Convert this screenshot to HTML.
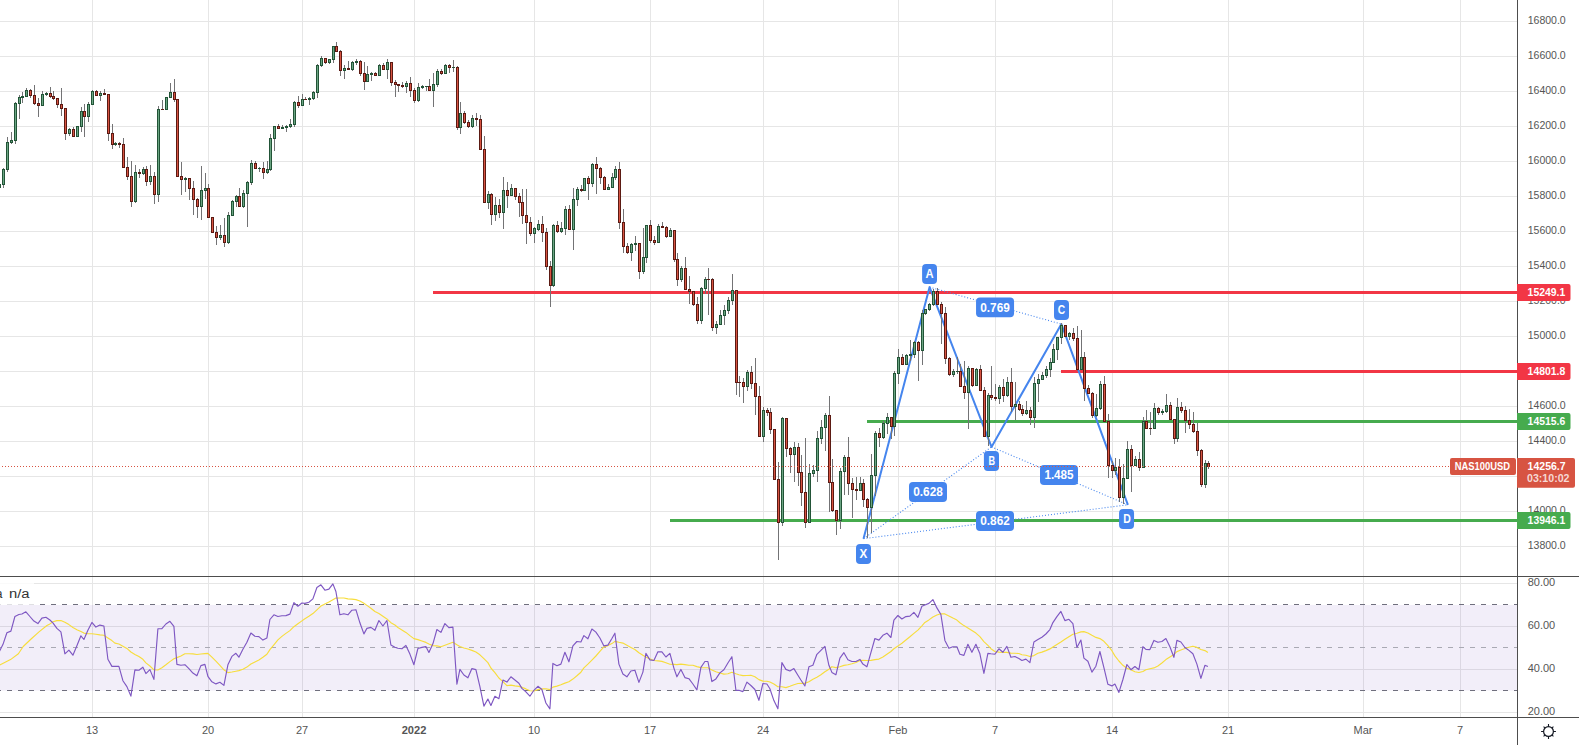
<!DOCTYPE html><html><head><meta charset="utf-8"><title>NAS100USD chart</title>
<style>html,body{margin:0;padding:0;background:#fff;overflow:hidden}svg{display:block}text{font-family:"Liberation Sans",sans-serif}</style></head><body>
<svg width="1579" height="745" viewBox="0 0 1579 745">
<rect width="1579" height="745" fill="#fff"/>
<path d="M0 21.5H1517M0 56.5H1517M0 91.5H1517M0 126.5H1517M0 161.5H1517M0 196.5H1517M0 231.5H1517M0 266.5H1517M0 301.5H1517M0 336.5H1517M0 371.5H1517M0 406.5H1517M0 441.5H1517M0 476.5H1517M0 511.5H1517M0 546.5H1517M0 583.5H1517M0 626.5H1517M0 669.5H1517M0 712.5H1517M92.5 0V576M92.5 577V717M208.5 0V576M208.5 577V717M302.5 0V576M302.5 577V717M414.5 0V576M414.5 577V717M534.5 0V576M534.5 577V717M650.5 0V576M650.5 577V717M763.5 0V576M763.5 577V717M898.5 0V576M898.5 577V717M995.5 0V576M995.5 577V717M1112.5 0V576M1112.5 577V717M1228.5 0V576M1228.5 577V717M1363.5 0V576M1363.5 577V717M1460.5 0V576M1460.5 577V717" stroke="#e6e6e6" stroke-width="1" fill="none" shape-rendering="crispEdges"/>
<rect x="0" y="605" width="1517" height="85.5" fill="#7e57c2" fill-opacity="0.1"/>
<path d="M-4 604.5H1517M-4 690.5H1517" stroke="#6f6f7d" stroke-width="1" stroke-dasharray="5 6" fill="none"/>
<path d="M-4 647.5H1517" stroke="#a9a9b3" stroke-width="1" stroke-dasharray="5 6" fill="none"/>
<path d="M433 292.5H1517M1061 371.5H1517" stroke="#f23645" stroke-width="3" fill="none"/>
<path d="M867 421.5H1517M670 520.5H1517" stroke="#46ab4e" stroke-width="3" fill="none"/>
<path d="M863.5 538.7L991.5 446.9M929.6 287.1L1061.4 324.1M991.5 446.9L1127.9 504.8M863.5 538.7L1127.9 504.8" stroke="#4585ee" stroke-width="1.1" stroke-dasharray="1 2" fill="none"/>
<path d="M863.5 538.7L929.6 287.1L991.5 446.9L1061.4 324.1L1127.9 504.8" stroke="#4585ee" stroke-width="2" fill="none" stroke-linejoin="round"/>
<g shape-rendering="crispEdges">
<path d="M-0.5 184V189M3.5 168V188M7.5 137V172M11.5 132V144M15.5 102V144M19.5 95V119M22.5 92V103M26.5 88V97M30.5 89V98M34.5 85V105M38.5 98V117M42.5 91V106M46.5 92V96M50.5 87V98M53.5 91V100M57.5 98V108M61.5 88V116M65.5 108V140M69.5 128V136M73.5 127V137M77.5 126V137M81.5 107V132M84.5 104V137M88.5 102V122M92.5 90V105M96.5 90V96M100.5 91V101M104.5 89V95M108.5 94V141M112.5 124V149M115.5 142V146M119.5 142V148M123.5 138V168M127.5 157V180M131.5 161V207M135.5 165V203M139.5 169V178M143.5 167V175M146.5 166V186M150.5 165V185M154.5 172V204M158.5 106V202M162.5 100V110M166.5 97V110M170.5 83V98M174.5 79V102M177.5 99V177M181.5 162V195M185.5 177V192M189.5 178V200M193.5 181V215M197.5 198V218M201.5 166V220M205.5 173V199M208.5 184V218M212.5 217V233M216.5 226V245M220.5 225V240M224.5 218V247M228.5 212V244M232.5 200V216M236.5 195V207M239.5 188V207M243.5 190V208M247.5 181V227M251.5 160V185M255.5 161V169M259.5 167V172M263.5 162V179M267.5 161V174M270.5 134V171M274.5 126V151M278.5 124V129M282.5 125V129M286.5 125V132M290.5 119V128M294.5 101V127M298.5 96V108M302.5 94V106M305.5 97V100M309.5 97V105M313.5 91V100M317.5 64V98M321.5 56V67M325.5 58V64M329.5 59V64M333.5 46V63M336.5 42V52M340.5 50V76M344.5 65V79M348.5 61V70M352.5 61V71M356.5 59V65M360.5 60V76M364.5 62V90M367.5 66V82M371.5 72V81M375.5 72V76M379.5 64V76M383.5 63V70M387.5 59V79M391.5 62V86M395.5 80V97M398.5 84V92M402.5 82V88M406.5 81V93M410.5 77V97M414.5 88V103M418.5 83V102M422.5 85V89M426.5 86V91M429.5 79V91M433.5 73V107M437.5 69V87M441.5 69V75M445.5 64V74M449.5 64V73M453.5 60V72M457.5 66V130M460.5 102V134M464.5 111V124M468.5 120V128M472.5 115V128M476.5 113V126M480.5 115V150M484.5 136V203M488.5 191V209M491.5 193V225M495.5 197V221M499.5 199V218M503.5 177V229M507.5 182V208M511.5 184V196M515.5 188V200M519.5 193V217M522.5 189V224M526.5 189V244M530.5 217V236M534.5 227V243M538.5 220V231M542.5 216V242M546.5 228V270M550.5 261V307M553.5 224V287M557.5 221V233M561.5 222V233M565.5 206V235M569.5 205V230M573.5 188V250M577.5 187V206M581.5 185V192M584.5 178V191M588.5 176V200M592.5 163V187M596.5 157V194M600.5 167V184M604.5 176V190M608.5 184V190M612.5 173V188M615.5 166V180M619.5 162V229M623.5 209V253M627.5 243V254M631.5 243V261M635.5 236V251M639.5 243V279M643.5 228V274M646.5 225V263M650.5 220V243M654.5 236V245M658.5 224V243M662.5 222V228M666.5 226V238M670.5 228V237M674.5 230V262M677.5 253V286M681.5 266V282M685.5 257V290M689.5 276V304M693.5 291V306M697.5 297V324M701.5 287V324M705.5 277V294M708.5 268V315M712.5 278V331M716.5 321V334M720.5 310V325M724.5 305V325M728.5 297V314M732.5 274V305M736.5 290V395M739.5 376V397M743.5 378V403M747.5 370V391M751.5 366V389M755.5 358V415M759.5 386V437M763.5 407V442M767.5 408V416M770.5 408V434M774.5 429V480M778.5 462V560M782.5 417V526M786.5 418V457M790.5 447V473M794.5 442V482M798.5 443V486M801.5 455V506M805.5 438V528M809.5 464V523M813.5 465V477M817.5 431V482M821.5 420V444M825.5 413V451M829.5 396V512M832.5 459V512M836.5 510V535M840.5 468V529M844.5 455V495M848.5 437V495M852.5 478V518M856.5 477V500M860.5 477V491M863.5 479V507M867.5 498V538M871.5 454V533M875.5 431V496M879.5 428V447M883.5 421V439M887.5 413V434M891.5 417V439M894.5 371V436M898.5 349V384M902.5 354V365M906.5 354V365M910.5 340V361M914.5 341V358M918.5 341V381M922.5 310V365M925.5 309V315M929.5 303V311M933.5 289V306M937.5 288V305M941.5 302V344M945.5 307V364M949.5 357V376M953.5 369V377M957.5 357V374M960.5 364V387M964.5 361V399M968.5 366V429M972.5 368V387M976.5 368V386M980.5 365V391M984.5 387V437M988.5 393V446M991.5 366V400M995.5 384V401M999.5 385V404M1003.5 379V402M1007.5 377V397M1011.5 368V412M1015.5 382V420M1019.5 401V411M1022.5 405V416M1026.5 401V415M1030.5 407V425M1034.5 377V428M1038.5 374V402M1042.5 372V380M1046.5 366V378M1050.5 358V377M1053.5 344V363M1057.5 337V360M1061.5 323V344M1065.5 325V337M1069.5 332V340M1073.5 328V341M1077.5 326V371M1081.5 330V370M1084.5 352V401M1088.5 385V394M1092.5 392V418M1096.5 394V417M1100.5 381V410M1104.5 376V422M1108.5 414V478M1112.5 461V478M1115.5 458V475M1119.5 459V502M1123.5 464V504M1127.5 441V479M1131.5 445V492M1135.5 456V466M1139.5 452V471M1143.5 417V468M1146.5 410V429M1150.5 412V435M1154.5 403V429M1158.5 407V415M1162.5 409V415M1166.5 394V413M1170.5 402V420M1174.5 419V444M1177.5 398V442M1181.5 402V413M1185.5 406V433M1189.5 409V429M1193.5 412V433M1197.5 423V456M1201.5 449V487M1205.5 460V488M1208.5 461V469" stroke="#737375" stroke-width="1" fill="none"/>
<path d="M-2 184h3v4h-3zM2 169h3v16h-3zM6 142h3v28h-3zM10 140h3v3h-3zM14 103h3v38h-3zM18 97h3v7h-3zM21 96h3v2h-3zM25 90h3v7h-3zM41 94h3v12h-3zM45 93h3v2h-3zM68 129h3v5h-3zM76 126h3v11h-3zM80 111h3v16h-3zM87 104h3v13h-3zM91 91h3v14h-3zM99 93h3v3h-3zM114 143h3v2h-3zM134 172h3v30h-3zM142 169h3v5h-3zM149 176h3v6h-3zM157 109h3v86h-3zM165 97h3v13h-3zM169 92h3v6h-3zM184 178h3v2h-3zM200 190h3v17h-3zM204 188h3v3h-3zM219 235h3v3h-3zM227 215h3v28h-3zM231 201h3v15h-3zM235 196h3v6h-3zM242 193h3v14h-3zM246 182h3v12h-3zM250 163h3v20h-3zM258 168h3v1h-3zM266 169h3v4h-3zM269 138h3v32h-3zM273 126h3v13h-3zM281 127h3v2h-3zM285 126h3v2h-3zM289 124h3v3h-3zM293 102h3v23h-3zM301 99h3v7h-3zM308 98h3v2h-3zM312 92h3v7h-3zM316 65h3v28h-3zM320 58h3v8h-3zM328 59h3v4h-3zM332 46h3v14h-3zM343 68h3v3h-3zM351 62h3v8h-3zM355 61h3v2h-3zM366 74h3v8h-3zM370 73h3v2h-3zM378 65h3v11h-3zM386 62h3v8h-3zM405 83h3v4h-3zM417 87h3v14h-3zM421 86h3v2h-3zM425 86h3v1h-3zM432 84h3v7h-3zM436 71h3v14h-3zM444 65h3v9h-3zM452 67h3v1h-3zM459 113h3v15h-3zM471 118h3v9h-3zM487 194h3v9h-3zM494 205h3v10h-3zM502 190h3v23h-3zM510 188h3v8h-3zM533 228h3v6h-3zM537 224h3v6h-3zM552 225h3v61h-3zM560 228h3v4h-3zM564 209h3v20h-3zM572 199h3v31h-3zM576 189h3v11h-3zM583 178h3v13h-3zM591 164h3v20h-3zM607 187h3v3h-3zM611 177h3v11h-3zM614 169h3v9h-3zM630 244h3v9h-3zM634 243h3v2h-3zM642 257h3v15h-3zM645 225h3v33h-3zM657 226h3v17h-3zM669 230h3v7h-3zM680 268h3v12h-3zM700 288h3v33h-3zM704 279h3v10h-3zM715 324h3v4h-3zM719 315h3v10h-3zM723 310h3v6h-3zM727 300h3v11h-3zM731 290h3v11h-3zM746 372h3v15h-3zM762 410h3v27h-3zM781 418h3v105h-3zM793 447h3v8h-3zM808 473h3v50h-3zM812 470h3v4h-3zM816 438h3v33h-3zM820 427h3v12h-3zM824 415h3v13h-3zM839 471h3v50h-3zM843 457h3v15h-3zM859 483h3v8h-3zM870 475h3v33h-3zM874 433h3v43h-3zM882 423h3v15h-3zM886 417h3v7h-3zM893 373h3v54h-3zM897 357h3v17h-3zM905 355h3v10h-3zM909 354h3v2h-3zM913 342h3v13h-3zM921 313h3v38h-3zM924 309h3v5h-3zM928 304h3v6h-3zM932 291h3v14h-3zM952 371h3v4h-3zM956 371h3v1h-3zM967 368h3v25h-3zM975 369h3v17h-3zM987 395h3v42h-3zM998 387h3v12h-3zM1006 382h3v14h-3zM1014 404h3v3h-3zM1025 410h3v4h-3zM1033 383h3v35h-3zM1037 379h3v5h-3zM1041 375h3v5h-3zM1045 369h3v7h-3zM1049 362h3v8h-3zM1052 349h3v14h-3zM1056 337h3v13h-3zM1060 325h3v13h-3zM1068 333h3v4h-3zM1080 357h3v13h-3zM1095 408h3v8h-3zM1099 384h3v25h-3zM1114 467h3v4h-3zM1122 478h3v20h-3zM1126 449h3v30h-3zM1134 459h3v7h-3zM1142 421h3v47h-3zM1153 408h3v21h-3zM1161 411h3v2h-3zM1165 405h3v7h-3zM1176 407h3v32h-3zM1204 463h3v22h-3z" fill="#225437"/>
<path d="M29 90h3v6h-3zM33 95h3v9h-3zM37 103h3v3h-3zM49 93h3v4h-3zM52 96h3v3h-3zM56 98h3v7h-3zM60 104h3v5h-3zM64 108h3v26h-3zM72 129h3v8h-3zM83 111h3v6h-3zM95 91h3v5h-3zM103 93h3v2h-3zM107 94h3v40h-3zM111 133h3v12h-3zM118 143h3v2h-3zM122 144h3v24h-3zM126 167h3v10h-3zM130 176h3v26h-3zM138 172h3v2h-3zM145 169h3v13h-3zM153 176h3v19h-3zM161 109h3v1h-3zM173 92h3v8h-3zM176 99h3v78h-3zM180 176h3v4h-3zM188 178h3v11h-3zM192 188h3v12h-3zM196 199h3v8h-3zM207 188h3v30h-3zM211 217h3v16h-3zM215 232h3v6h-3zM223 235h3v8h-3zM238 196h3v11h-3zM254 163h3v6h-3zM262 168h3v5h-3zM277 126h3v3h-3zM297 102h3v4h-3zM304 99h3v1h-3zM324 58h3v5h-3zM335 46h3v6h-3zM339 51h3v20h-3zM347 68h3v2h-3zM359 61h3v13h-3zM363 73h3v9h-3zM374 73h3v3h-3zM382 65h3v5h-3zM390 62h3v21h-3zM394 82h3v3h-3zM397 84h3v2h-3zM401 85h3v2h-3zM409 83h3v8h-3zM413 90h3v11h-3zM428 86h3v5h-3zM440 71h3v3h-3zM448 65h3v3h-3zM456 67h3v61h-3zM463 113h3v10h-3zM467 122h3v5h-3zM475 118h3v2h-3zM479 119h3v31h-3zM483 149h3v54h-3zM490 194h3v21h-3zM498 205h3v8h-3zM506 190h3v6h-3zM514 188h3v9h-3zM518 196h3v7h-3zM521 202h3v14h-3zM525 215h3v8h-3zM529 222h3v12h-3zM541 224h3v9h-3zM545 232h3v35h-3zM549 266h3v20h-3zM556 225h3v7h-3zM568 209h3v21h-3zM580 189h3v2h-3zM587 178h3v6h-3zM595 164h3v5h-3zM599 168h3v10h-3zM603 177h3v13h-3zM618 169h3v54h-3zM622 222h3v25h-3zM626 246h3v7h-3zM638 243h3v29h-3zM649 225h3v16h-3zM653 240h3v3h-3zM661 226h3v2h-3zM665 227h3v10h-3zM673 230h3v30h-3zM676 259h3v21h-3zM684 268h3v22h-3zM688 289h3v3h-3zM692 291h3v14h-3zM696 304h3v17h-3zM707 279h3v1h-3zM711 279h3v49h-3zM735 290h3v93h-3zM738 382h3v1h-3zM742 382h3v5h-3zM750 372h3v12h-3zM754 383h3v14h-3zM758 396h3v41h-3zM766 410h3v3h-3zM769 412h3v18h-3zM773 429h3v51h-3zM777 479h3v44h-3zM785 418h3v31h-3zM789 448h3v7h-3zM797 447h3v26h-3zM800 472h3v21h-3zM804 492h3v31h-3zM828 415h3v68h-3zM831 482h3v29h-3zM835 510h3v11h-3zM847 457h3v27h-3zM851 483h3v7h-3zM855 489h3v2h-3zM862 483h3v17h-3zM866 499h3v9h-3zM878 433h3v5h-3zM890 417h3v10h-3zM901 357h3v8h-3zM917 342h3v9h-3zM936 291h3v14h-3zM940 304h3v10h-3zM944 313h3v46h-3zM948 358h3v17h-3zM959 371h3v16h-3zM963 386h3v7h-3zM971 368h3v18h-3zM979 369h3v22h-3zM983 390h3v47h-3zM990 395h3v3h-3zM994 397h3v2h-3zM1002 387h3v9h-3zM1010 382h3v25h-3zM1018 404h3v6h-3zM1021 409h3v5h-3zM1029 410h3v8h-3zM1064 325h3v12h-3zM1072 333h3v6h-3zM1076 338h3v32h-3zM1083 357h3v32h-3zM1087 388h3v6h-3zM1091 393h3v23h-3zM1103 384h3v38h-3zM1107 421h3v45h-3zM1111 465h3v6h-3zM1118 467h3v31h-3zM1130 449h3v17h-3zM1138 459h3v9h-3zM1145 421h3v8h-3zM1149 428h3v1h-3zM1157 408h3v5h-3zM1169 405h3v15h-3zM1173 419h3v20h-3zM1180 407h3v4h-3zM1184 410h3v11h-3zM1188 420h3v5h-3zM1192 424h3v8h-3zM1196 431h3v20h-3zM1200 450h3v35h-3zM1207 463h3v4h-3z" fill="#5b1a13"/>
<path d="M-1 185h1v2h-1zM3 170h1v14h-1zM7 143h1v26h-1zM11 141h1v1h-1zM15 104h1v36h-1zM19 98h1v5h-1zM26 91h1v5h-1zM42 95h1v10h-1zM69 130h1v3h-1zM77 127h1v9h-1zM81 112h1v14h-1zM88 105h1v11h-1zM92 92h1v12h-1zM100 94h1v1h-1zM135 173h1v28h-1zM143 170h1v3h-1zM150 177h1v4h-1zM158 110h1v84h-1zM166 98h1v11h-1zM170 93h1v4h-1zM201 191h1v15h-1zM205 189h1v1h-1zM220 236h1v1h-1zM228 216h1v26h-1zM232 202h1v13h-1zM236 197h1v4h-1zM243 194h1v12h-1zM247 183h1v10h-1zM251 164h1v18h-1zM267 170h1v2h-1zM270 139h1v30h-1zM274 127h1v11h-1zM290 125h1v1h-1zM294 103h1v21h-1zM302 100h1v5h-1zM313 93h1v5h-1zM317 66h1v26h-1zM321 59h1v6h-1zM329 60h1v2h-1zM333 47h1v12h-1zM344 69h1v1h-1zM352 63h1v6h-1zM367 75h1v6h-1zM379 66h1v9h-1zM387 63h1v6h-1zM406 84h1v2h-1zM418 88h1v12h-1zM433 85h1v5h-1zM437 72h1v12h-1zM445 66h1v7h-1zM460 114h1v13h-1zM472 119h1v7h-1zM488 195h1v7h-1zM495 206h1v8h-1zM503 191h1v21h-1zM511 189h1v6h-1zM534 229h1v4h-1zM538 225h1v4h-1zM553 226h1v59h-1zM561 229h1v2h-1zM565 210h1v18h-1zM573 200h1v29h-1zM577 190h1v9h-1zM584 179h1v11h-1zM592 165h1v18h-1zM608 188h1v1h-1zM612 178h1v9h-1zM615 170h1v7h-1zM631 245h1v7h-1zM643 258h1v13h-1zM646 226h1v31h-1zM658 227h1v15h-1zM670 231h1v5h-1zM681 269h1v10h-1zM701 289h1v31h-1zM705 280h1v8h-1zM716 325h1v2h-1zM720 316h1v8h-1zM724 311h1v4h-1zM728 301h1v9h-1zM732 291h1v9h-1zM747 373h1v13h-1zM763 411h1v25h-1zM782 419h1v103h-1zM794 448h1v6h-1zM809 474h1v48h-1zM813 471h1v2h-1zM817 439h1v31h-1zM821 428h1v10h-1zM825 416h1v11h-1zM840 472h1v48h-1zM844 458h1v13h-1zM860 484h1v6h-1zM871 476h1v31h-1zM875 434h1v41h-1zM883 424h1v13h-1zM887 418h1v5h-1zM894 374h1v52h-1zM898 358h1v15h-1zM906 356h1v8h-1zM914 343h1v11h-1zM922 314h1v36h-1zM925 310h1v3h-1zM929 305h1v4h-1zM933 292h1v12h-1zM953 372h1v2h-1zM968 369h1v23h-1zM976 370h1v15h-1zM988 396h1v40h-1zM999 388h1v10h-1zM1007 383h1v12h-1zM1015 405h1v1h-1zM1026 411h1v2h-1zM1034 384h1v33h-1zM1038 380h1v3h-1zM1042 376h1v3h-1zM1046 370h1v5h-1zM1050 363h1v6h-1zM1053 350h1v12h-1zM1057 338h1v11h-1zM1061 326h1v11h-1zM1069 334h1v2h-1zM1081 358h1v11h-1zM1096 409h1v6h-1zM1100 385h1v23h-1zM1115 468h1v2h-1zM1123 479h1v18h-1zM1127 450h1v28h-1zM1135 460h1v5h-1zM1143 422h1v45h-1zM1154 409h1v19h-1zM1166 406h1v5h-1zM1177 408h1v30h-1zM1205 464h1v20h-1z" fill="#6ba583"/>
<path d="M30 91h1v4h-1zM34 96h1v7h-1zM38 104h1v1h-1zM50 94h1v2h-1zM53 97h1v1h-1zM57 99h1v5h-1zM61 105h1v3h-1zM65 109h1v24h-1zM73 130h1v6h-1zM84 112h1v4h-1zM96 92h1v3h-1zM108 95h1v38h-1zM112 134h1v10h-1zM123 145h1v22h-1zM127 168h1v8h-1zM131 177h1v24h-1zM146 170h1v11h-1zM154 177h1v17h-1zM174 93h1v6h-1zM177 100h1v76h-1zM181 177h1v2h-1zM189 179h1v9h-1zM193 189h1v10h-1zM197 200h1v6h-1zM208 189h1v28h-1zM212 218h1v14h-1zM216 233h1v4h-1zM224 236h1v6h-1zM239 197h1v9h-1zM255 164h1v4h-1zM263 169h1v3h-1zM278 127h1v1h-1zM298 103h1v2h-1zM325 59h1v3h-1zM336 47h1v4h-1zM340 52h1v18h-1zM360 62h1v11h-1zM364 74h1v7h-1zM375 74h1v1h-1zM383 66h1v3h-1zM391 63h1v19h-1zM395 83h1v1h-1zM410 84h1v6h-1zM414 91h1v9h-1zM429 87h1v3h-1zM441 72h1v1h-1zM449 66h1v1h-1zM457 68h1v59h-1zM464 114h1v8h-1zM468 123h1v3h-1zM480 120h1v29h-1zM484 150h1v52h-1zM491 195h1v19h-1zM499 206h1v6h-1zM507 191h1v4h-1zM515 189h1v7h-1zM519 197h1v5h-1zM522 203h1v12h-1zM526 216h1v6h-1zM530 223h1v10h-1zM542 225h1v7h-1zM546 233h1v33h-1zM550 267h1v18h-1zM557 226h1v5h-1zM569 210h1v19h-1zM588 179h1v4h-1zM596 165h1v3h-1zM600 169h1v8h-1zM604 178h1v11h-1zM619 170h1v52h-1zM623 223h1v23h-1zM627 247h1v5h-1zM639 244h1v27h-1zM650 226h1v14h-1zM654 241h1v1h-1zM666 228h1v8h-1zM674 231h1v28h-1zM677 260h1v19h-1zM685 269h1v20h-1zM689 290h1v1h-1zM693 292h1v12h-1zM697 305h1v15h-1zM712 280h1v47h-1zM736 291h1v91h-1zM743 383h1v3h-1zM751 373h1v10h-1zM755 384h1v12h-1zM759 397h1v39h-1zM767 411h1v1h-1zM770 413h1v16h-1zM774 430h1v49h-1zM778 480h1v42h-1zM786 419h1v29h-1zM790 449h1v5h-1zM798 448h1v24h-1zM801 473h1v19h-1zM805 493h1v29h-1zM829 416h1v66h-1zM832 483h1v27h-1zM836 511h1v9h-1zM848 458h1v25h-1zM852 484h1v5h-1zM863 484h1v15h-1zM867 500h1v7h-1zM879 434h1v3h-1zM891 418h1v8h-1zM902 358h1v6h-1zM918 343h1v7h-1zM937 292h1v12h-1zM941 305h1v8h-1zM945 314h1v44h-1zM949 359h1v15h-1zM960 372h1v14h-1zM964 387h1v5h-1zM972 369h1v16h-1zM980 370h1v20h-1zM984 391h1v45h-1zM991 396h1v1h-1zM1003 388h1v7h-1zM1011 383h1v23h-1zM1019 405h1v4h-1zM1022 410h1v3h-1zM1030 411h1v6h-1zM1065 326h1v10h-1zM1073 334h1v4h-1zM1077 339h1v30h-1zM1084 358h1v30h-1zM1088 389h1v4h-1zM1092 394h1v21h-1zM1104 385h1v36h-1zM1108 422h1v43h-1zM1112 466h1v4h-1zM1119 468h1v29h-1zM1131 450h1v15h-1zM1139 460h1v7h-1zM1146 422h1v6h-1zM1158 409h1v3h-1zM1170 406h1v13h-1zM1174 420h1v18h-1zM1181 408h1v2h-1zM1185 411h1v9h-1zM1189 421h1v3h-1zM1193 425h1v6h-1zM1197 432h1v18h-1zM1201 451h1v33h-1zM1208 464h1v2h-1z" fill="#d75442"/>
</g>
<rect x="856" y="543.9" width="15.0" height="20.0" rx="4" fill="#4585ee"/>
<text x="863.5" y="558.0" font-size="12" font-weight="bold" fill="#fff" text-anchor="middle" textLength="7.8" lengthAdjust="spacingAndGlyphs">X</text>
<rect x="922.1" y="264" width="14.9" height="19.9" rx="4" fill="#4585ee"/>
<text x="929.6" y="278.1" font-size="12" font-weight="bold" fill="#fff" text-anchor="middle" textLength="8.1" lengthAdjust="spacingAndGlyphs">A</text>
<rect x="983.9" y="451" width="15.1" height="19.9" rx="4" fill="#4585ee"/>
<text x="991.7" y="465.1" font-size="12" font-weight="bold" fill="#fff" text-anchor="middle" textLength="6.6" lengthAdjust="spacingAndGlyphs">B</text>
<rect x="1054" y="300" width="15.0" height="19.9" rx="4" fill="#4585ee"/>
<text x="1061.5" y="314.1" font-size="12" font-weight="bold" fill="#fff" text-anchor="middle" textLength="7.4" lengthAdjust="spacingAndGlyphs">C</text>
<rect x="1119.05" y="508.9" width="15.0" height="20.0" rx="4" fill="#4585ee"/>
<text x="1127.0" y="523.0" font-size="12" font-weight="bold" fill="#fff" text-anchor="middle" textLength="7.6" lengthAdjust="spacingAndGlyphs">D</text>
<rect x="909" y="482" width="38.0" height="19.9" rx="4" fill="#4585ee"/>
<text x="928.0" y="496.1" font-size="12" font-weight="bold" fill="#fff" text-anchor="middle" textLength="29.6" lengthAdjust="spacingAndGlyphs">0.628</text>
<rect x="976.05" y="297.4" width="38.0" height="19.9" rx="4" fill="#4585ee"/>
<text x="995.0" y="311.5" font-size="12" font-weight="bold" fill="#fff" text-anchor="middle" textLength="29.6" lengthAdjust="spacingAndGlyphs">0.769</text>
<rect x="1040" y="465" width="38.0" height="19.9" rx="4" fill="#4585ee"/>
<text x="1059.0" y="479.1" font-size="12" font-weight="bold" fill="#fff" text-anchor="middle" textLength="29.2" lengthAdjust="spacingAndGlyphs">1.485</text>
<rect x="976" y="511" width="38.0" height="20.0" rx="4" fill="#4585ee"/>
<text x="995.0" y="525.1" font-size="12" font-weight="bold" fill="#fff" text-anchor="middle" textLength="29.6" lengthAdjust="spacingAndGlyphs">0.862</text>
<path d="M2 466.5H1450" stroke="#d75442" stroke-width="1" stroke-dasharray="1 2" fill="none" shape-rendering="crispEdges"/>
<path d="M-0.6 665.2L4.2 662.8L10.5 659.6L18.4 653.8L23.2 646.5L31.1 639.0L39.0 631.9L46.9 625.5L49.9 623.9L52.9 621.8L56.9 620.6L60.9 620.5L64.9 622.2L68.9 624.6L72.9 627.5L76.9 629.7L80.9 631.5L83.9 633.1L87.9 633.8L91.9 633.7L95.9 634.3L99.9 634.9L103.9 635.3L107.9 637.9L111.9 640.6L114.9 643.1L118.9 644.0L122.9 646.2L126.9 648.4L130.9 652.0L134.9 654.4L138.9 656.6L142.9 659.3L145.9 662.9L149.9 666.0L153.9 669.8L157.9 670.0L161.9 667.8L165.9 664.8L169.9 661.6L173.9 658.7L176.9 657.6L180.9 656.0L184.9 653.8L188.9 653.7L192.9 653.9L196.9 654.5L200.9 654.0L204.9 653.6L207.9 653.4L211.9 657.1L215.9 661.1L219.9 665.3L223.9 669.8L227.9 672.6L231.9 672.0L235.9 671.2L238.9 670.6L242.9 669.3L246.9 667.1L250.9 664.0L254.9 661.9L258.9 659.9L262.9 657.3L266.9 654.2L269.9 649.6L273.9 644.8L277.9 639.9L281.9 636.4L285.9 633.4L289.9 630.6L293.9 626.7L297.9 623.7L301.9 620.9L304.9 618.7L308.9 616.3L312.9 613.6L316.9 609.9L320.9 606.1L324.9 604.0L328.9 602.1L332.9 599.8L335.9 598.1L339.9 598.0L343.9 598.0L347.9 598.9L351.9 599.1L355.9 599.6L359.9 601.0L363.9 603.3L366.9 605.4L370.9 608.2L374.9 611.5L378.9 613.6L382.9 616.3L386.9 618.9L390.9 622.7L394.9 625.0L397.9 627.5L401.9 629.9L405.9 632.4L409.9 635.6L413.9 638.6L417.9 639.6L421.9 641.0L425.9 642.4L428.9 644.0L432.9 645.6L436.9 645.9L440.9 646.7L444.9 645.2L448.9 643.8L452.9 642.3L456.9 644.8L459.9 646.5L463.9 648.0L467.9 649.0L471.9 650.4L475.9 652.0L479.9 654.8L483.9 658.7L487.9 662.6L490.9 668.0L494.9 672.6L498.9 678.0L502.9 681.7L506.9 685.6L510.9 685.1L514.9 685.9L518.9 686.4L521.9 687.2L525.9 688.9L529.9 690.8L533.9 691.0L537.9 689.6L541.9 688.9L545.9 688.8L549.9 689.6L552.9 687.1L556.9 686.1L560.9 684.8L564.9 683.1L568.9 681.8L572.9 679.1L576.9 675.8L580.9 672.2L583.9 667.9L587.9 664.2L591.9 660.1L595.9 656.0L599.9 651.4L603.9 646.9L607.9 645.6L611.9 643.6L614.9 641.4L618.9 642.3L622.9 643.1L626.9 645.3L630.9 647.4L634.9 649.5L638.9 652.8L642.9 655.2L645.9 656.9L649.9 658.9L653.9 660.5L657.9 660.9L661.9 661.4L665.9 662.7L669.9 664.2L673.9 664.4L676.9 664.6L680.9 664.1L684.9 664.6L688.9 665.2L692.9 665.3L696.9 666.6L700.9 667.6L704.9 667.7L707.9 667.8L711.9 669.9L715.9 671.8L719.9 673.0L723.9 674.1L727.9 673.8L731.9 672.3L735.9 673.8L738.9 674.7L742.9 675.6L746.9 675.5L750.9 675.2L754.9 676.8L758.9 679.6L762.9 681.1L766.9 681.3L769.9 682.0L773.9 684.0L777.9 686.8L781.9 686.7L785.9 687.6L789.9 686.3L793.9 684.7L797.9 683.5L800.9 683.4L804.9 683.4L808.9 681.8L812.9 679.3L816.9 677.2L820.9 674.8L824.9 671.8L828.9 669.3L831.9 666.7L835.9 667.6L839.9 666.7L843.9 665.4L847.9 664.8L851.9 663.8L855.9 662.5L859.9 660.6L862.9 660.4L866.9 660.5L870.9 660.4L874.9 659.6L878.9 659.1L882.9 657.0L886.9 654.2L890.9 651.5L893.9 648.8L897.9 646.1L901.9 643.2L905.9 640.0L909.9 636.8L913.9 633.4L917.9 630.1L921.9 625.8L924.9 622.4L928.9 619.9L932.9 617.0L936.9 615.0L940.9 613.7L944.9 613.9L948.9 615.9L952.9 618.1L956.9 620.1L959.9 622.8L963.9 625.6L967.9 627.9L971.9 630.4L975.9 633.1L979.9 636.6L983.9 641.6L987.9 645.4L990.9 648.7L994.9 651.5L998.9 652.1L1002.9 652.4L1006.9 652.4L1010.9 653.1L1014.9 653.3L1018.9 653.5L1021.9 654.7L1025.9 655.2L1029.9 656.5L1033.9 655.6L1037.9 653.2L1041.9 652.1L1045.9 650.6L1049.9 648.9L1052.9 647.0L1056.9 644.5L1060.9 642.0L1064.9 639.3L1068.9 636.7L1072.9 634.2L1076.9 633.3L1080.9 631.9L1083.9 631.6L1087.9 633.0L1091.9 635.3L1095.9 637.4L1099.9 638.6L1103.9 641.3L1107.9 645.7L1111.9 650.7L1114.9 655.9L1118.9 661.0L1122.9 665.3L1126.9 668.2L1130.9 669.8L1134.9 671.7L1138.9 672.5L1142.9 671.5L1145.9 669.8L1149.9 668.7L1153.9 667.9L1157.9 666.0L1161.9 663.0L1165.9 659.6L1169.9 656.9L1173.9 654.4L1176.9 651.6L1180.9 650.0L1184.9 648.5L1188.9 647.3L1192.9 646.2L1196.9 647.4L1200.9 649.5L1204.9 650.6L1207.9 652.5" stroke="#f7dd3c" stroke-width="1.15" fill="none" stroke-linejoin="round"/>
<path d="M-1.1 652.5L2.9 644.6L6.9 632.7L10.9 631.1L14.9 616.5L18.9 614.5L21.9 614.0L25.9 611.8L29.9 616.5L33.9 621.1L37.9 623.6L41.9 618.1L45.9 617.3L49.9 620.0L52.9 622.8L56.9 628.4L60.9 631.9L64.9 653.8L68.9 650.1L72.9 655.2L76.9 645.8L80.9 635.8L83.9 639.5L87.9 630.3L91.9 622.4L95.9 627.1L99.9 625.1L103.9 626.0L107.9 659.3L111.9 666.4L114.9 666.3L118.9 666.4L122.9 680.7L126.9 686.6L130.9 696.1L134.9 669.9L138.9 670.2L142.9 667.2L145.9 673.6L149.9 669.6L153.9 679.4L157.9 628.7L161.9 628.7L165.9 624.0L169.9 621.3L173.9 626.3L176.9 664.4L180.9 665.2L184.9 664.7L188.9 668.6L192.9 673.1L196.9 675.8L200.9 665.6L204.9 664.4L207.9 676.3L211.9 681.8L215.9 683.9L219.9 682.3L223.9 685.4L227.9 664.8L231.9 656.4L235.9 653.3L238.9 657.2L242.9 649.3L246.9 642.2L250.9 633.0L254.9 636.3L258.9 636.6L262.9 640.1L266.9 637.9L269.9 619.5L273.9 614.8L277.9 616.5L281.9 615.7L285.9 615.6L289.9 614.1L293.9 602.6L297.9 606.2L301.9 603.0L304.9 603.4L308.9 602.2L312.9 598.9L316.9 587.5L320.9 584.8L324.9 590.2L328.9 589.1L332.9 583.9L335.9 591.5L339.9 614.8L343.9 613.7L347.9 614.8L351.9 610.2L355.9 609.7L359.9 622.8L363.9 633.9L366.9 628.4L370.9 627.4L374.9 630.3L378.9 620.5L382.9 626.0L386.9 620.5L390.9 645.0L394.9 647.3L397.9 648.2L401.9 648.8L405.9 645.4L409.9 654.1L413.9 664.7L417.9 648.5L421.9 647.4L425.9 646.6L428.9 652.5L432.9 643.8L436.9 629.5L440.9 632.4L444.9 623.6L448.9 627.6L452.9 627.1L456.9 684.2L459.9 669.4L463.9 675.0L467.9 677.8L471.9 668.6L475.9 669.6L479.9 686.6L483.9 706.1L487.9 699.0L490.9 705.4L494.9 696.3L498.9 698.7L502.9 680.0L506.9 682.1L510.9 676.8L514.9 680.0L518.9 683.2L521.9 688.4L525.9 691.9L529.9 696.2L533.9 690.3L537.9 686.3L541.9 689.5L545.9 703.0L549.9 708.8L552.9 663.4L556.9 665.7L560.9 664.1L564.9 652.3L568.9 661.8L572.9 645.9L576.9 641.5L580.9 642.0L583.9 635.6L587.9 638.8L591.9 629.0L595.9 632.1L599.9 638.0L603.9 645.9L607.9 645.1L611.9 638.5L614.9 633.2L618.9 664.1L622.9 674.0L626.9 676.8L630.9 671.0L634.9 670.2L638.9 682.4L642.9 672.1L645.9 653.4L649.9 659.9L653.9 660.5L657.9 651.8L661.9 651.8L665.9 657.0L669.9 653.4L673.9 668.1L676.9 676.8L680.9 669.4L684.9 677.6L688.9 678.7L692.9 684.0L696.9 689.8L700.9 667.3L704.9 661.5L707.9 661.5L711.9 681.6L715.9 678.9L719.9 672.9L723.9 669.7L727.9 663.0L731.9 656.7L735.9 690.3L738.9 690.3L742.9 691.6L746.9 682.1L750.9 685.5L754.9 689.5L758.9 700.3L762.9 683.5L766.9 684.0L769.9 688.7L773.9 700.6L777.9 708.8L781.9 662.6L785.9 669.4L789.9 671.0L793.9 668.6L797.9 675.2L800.9 680.0L804.9 686.0L808.9 666.8L812.9 665.3L816.9 654.3L820.9 650.4L824.9 646.4L828.9 665.3L831.9 672.4L835.9 674.8L839.9 658.1L843.9 652.7L847.9 659.7L851.9 661.5L855.9 661.5L859.9 659.4L862.9 664.1L866.9 666.8L870.9 652.7L874.9 638.5L878.9 640.1L882.9 635.3L886.9 633.2L890.9 637.5L893.9 620.1L897.9 615.5L901.9 619.0L905.9 616.6L909.9 616.1L913.9 612.3L917.9 617.4L921.9 606.3L924.9 605.0L928.9 603.4L932.9 599.6L936.9 607.9L940.9 614.5L944.9 640.4L948.9 648.3L952.9 646.7L956.9 646.7L959.9 654.3L963.9 655.4L967.9 644.3L971.9 652.3L975.9 644.3L979.9 653.8L983.9 673.3L987.9 653.4L990.9 653.8L994.9 654.2L998.9 648.8L1002.9 652.3L1006.9 646.4L1010.9 657.3L1014.9 656.5L1018.9 658.6L1021.9 660.5L1025.9 659.1L1029.9 662.6L1033.9 642.0L1037.9 639.6L1041.9 637.2L1045.9 634.0L1049.9 629.6L1052.9 622.6L1056.9 616.6L1060.9 611.4L1064.9 620.6L1068.9 619.3L1072.9 623.7L1076.9 647.5L1080.9 640.1L1083.9 658.1L1087.9 661.3L1091.9 672.1L1095.9 666.2L1099.9 651.5L1103.9 667.6L1107.9 684.3L1111.9 685.9L1114.9 684.0L1118.9 692.4L1122.9 679.5L1126.9 664.5L1130.9 669.7L1134.9 666.5L1138.9 669.7L1142.9 646.7L1145.9 649.4L1149.9 649.6L1153.9 640.4L1157.9 642.3L1161.9 641.5L1165.9 638.5L1169.9 646.7L1173.9 657.3L1176.9 640.4L1180.9 642.0L1184.9 647.5L1188.9 650.4L1192.9 653.8L1196.9 664.1L1200.9 678.4L1204.9 665.3L1207.9 666.5" stroke="#7e57c2" stroke-width="1.15" fill="none" stroke-linejoin="round"/>
<rect x="1518" y="0" width="61" height="745" fill="#fff"/>
<rect x="0" y="718" width="1579" height="27" fill="#fff"/>
<path d="M1517.5 0V745M0 576.5H1579M0 717.5H1579" stroke="#4d4d4d" stroke-width="1" fill="none" shape-rendering="crispEdges"/>
<text x="1527.7" y="24.0" font-size="11" fill="#555" textLength="38" lengthAdjust="spacingAndGlyphs">16800.0</text>
<text x="1527.7" y="59.0" font-size="11" fill="#555" textLength="38" lengthAdjust="spacingAndGlyphs">16600.0</text>
<text x="1527.7" y="94.0" font-size="11" fill="#555" textLength="38" lengthAdjust="spacingAndGlyphs">16400.0</text>
<text x="1527.7" y="129.0" font-size="11" fill="#555" textLength="38" lengthAdjust="spacingAndGlyphs">16200.0</text>
<text x="1527.7" y="164.0" font-size="11" fill="#555" textLength="38" lengthAdjust="spacingAndGlyphs">16000.0</text>
<text x="1527.7" y="199.0" font-size="11" fill="#555" textLength="38" lengthAdjust="spacingAndGlyphs">15800.0</text>
<text x="1527.7" y="234.0" font-size="11" fill="#555" textLength="38" lengthAdjust="spacingAndGlyphs">15600.0</text>
<text x="1527.7" y="269.0" font-size="11" fill="#555" textLength="38" lengthAdjust="spacingAndGlyphs">15400.0</text>
<text x="1527.7" y="304.0" font-size="11" fill="#555" textLength="38" lengthAdjust="spacingAndGlyphs">15200.0</text>
<text x="1527.7" y="339.0" font-size="11" fill="#555" textLength="38" lengthAdjust="spacingAndGlyphs">15000.0</text>
<text x="1527.7" y="374.0" font-size="11" fill="#555" textLength="38" lengthAdjust="spacingAndGlyphs">14800.0</text>
<text x="1527.7" y="409.0" font-size="11" fill="#555" textLength="38" lengthAdjust="spacingAndGlyphs">14600.0</text>
<text x="1527.7" y="444.0" font-size="11" fill="#555" textLength="38" lengthAdjust="spacingAndGlyphs">14400.0</text>
<text x="1527.7" y="479.0" font-size="11" fill="#555" textLength="38" lengthAdjust="spacingAndGlyphs">14200.0</text>
<text x="1527.7" y="514.0" font-size="11" fill="#555" textLength="38" lengthAdjust="spacingAndGlyphs">14000.0</text>
<text x="1527.7" y="549.0" font-size="11" fill="#555" textLength="38" lengthAdjust="spacingAndGlyphs">13800.0</text>
<text x="1527.7" y="586.0" font-size="11" fill="#555" textLength="27.5" lengthAdjust="spacingAndGlyphs">80.00</text>
<text x="1527.7" y="629.0" font-size="11" fill="#555" textLength="27.5" lengthAdjust="spacingAndGlyphs">60.00</text>
<text x="1527.7" y="672.0" font-size="11" fill="#555" textLength="27.5" lengthAdjust="spacingAndGlyphs">40.00</text>
<text x="1527.7" y="715.0" font-size="11" fill="#555" textLength="27.5" lengthAdjust="spacingAndGlyphs">20.00</text>
<text x="92.0" y="734.3" font-size="11" fill="#555" text-anchor="middle">13</text>
<text x="208.0" y="734.3" font-size="11" fill="#555" text-anchor="middle">20</text>
<text x="302.0" y="734.3" font-size="11" fill="#555" text-anchor="middle">27</text>
<text x="414.0" y="734.3" font-size="11" fill="#555" text-anchor="middle" font-weight="bold" textLength="24.7" lengthAdjust="spacingAndGlyphs">2022</text>
<text x="534.0" y="734.3" font-size="11" fill="#555" text-anchor="middle">10</text>
<text x="650.0" y="734.3" font-size="11" fill="#555" text-anchor="middle">17</text>
<text x="763.0" y="734.3" font-size="11" fill="#555" text-anchor="middle">24</text>
<text x="898.0" y="734.3" font-size="11" fill="#555" text-anchor="middle">Feb</text>
<text x="995.0" y="734.3" font-size="11" fill="#555" text-anchor="middle">7</text>
<text x="1112.0" y="734.3" font-size="11" fill="#555" text-anchor="middle">14</text>
<text x="1228.0" y="734.3" font-size="11" fill="#555" text-anchor="middle">21</text>
<text x="1363.0" y="734.3" font-size="11" fill="#555" text-anchor="middle">Mar</text>
<text x="1460.0" y="734.3" font-size="11" fill="#555" text-anchor="middle">7</text>
<path d="M1517 284.0H1568.5a2 2 0 0 1 2 2v13a2 2 0 0 1 -2 2H1517z" fill="#f23645"/>
<text x="1527.6" y="296.3" font-size="11" font-weight="bold" fill="#fff" textLength="37.6" lengthAdjust="spacingAndGlyphs">15249.1</text>
<path d="M1517 363.0H1568.5a2 2 0 0 1 2 2v13a2 2 0 0 1 -2 2H1517z" fill="#f23645"/>
<text x="1527.6" y="375.3" font-size="11" font-weight="bold" fill="#fff" textLength="37.6" lengthAdjust="spacingAndGlyphs">14801.8</text>
<path d="M1517 413.0H1568.5a2 2 0 0 1 2 2v13a2 2 0 0 1 -2 2H1517z" fill="#46ab4e"/>
<text x="1527.6" y="425.3" font-size="11" font-weight="bold" fill="#fff" textLength="37.6" lengthAdjust="spacingAndGlyphs">14515.6</text>
<path d="M1517 512.0H1568.5a2 2 0 0 1 2 2v13a2 2 0 0 1 -2 2H1517z" fill="#46ab4e"/>
<text x="1527.6" y="524.3" font-size="11" font-weight="bold" fill="#fff" textLength="37.6" lengthAdjust="spacingAndGlyphs">13946.1</text>
<path d="M1517 458H1573a2 2 0 0 1 2 2v25.7a2 2 0 0 1 -2 2H1517z" fill="#d75442"/>
<text x="1527.6" y="470.3" font-size="11" font-weight="bold" fill="#fff" textLength="38" lengthAdjust="spacingAndGlyphs">14256.7</text>
<text x="1527" y="482.4" font-size="11" font-weight="bold" fill="#fff" fill-opacity="0.78" textLength="42.5" lengthAdjust="spacingAndGlyphs">03:10:02</text>
<rect x="1450" y="458" width="66" height="17" rx="2" fill="#d75442"/>
<text x="1454.7" y="470.3" font-size="11" font-weight="bold" fill="#fff" textLength="55.3" lengthAdjust="spacingAndGlyphs">NAS100USD</text>
<rect x="0" y="577" width="34" height="28" fill="#fff" fill-opacity="0.78"/>
<text x="2.4" y="597.8" font-size="12" fill="#333" text-anchor="end">a</text>
<text x="8.9" y="597.8" font-size="12" fill="#333" textLength="20.6" lengthAdjust="spacingAndGlyphs">n/a</text>
<g transform="translate(1548.5 731.5)" stroke="#131722" fill="none"><circle r="4.9" stroke-width="1.2"/><path d="M5.00 0.00L7.40 0.00M3.54 3.54L4.95 4.95M0.00 5.00L0.00 7.40M-3.54 3.54L-4.95 4.95M-5.00 0.00L-7.40 0.00M-3.54 -3.54L-4.95 -4.95M-0.00 -5.00L-0.00 -7.40M3.54 -3.54L4.95 -4.95" stroke-width="1.1"/></g>
</svg></body></html>
